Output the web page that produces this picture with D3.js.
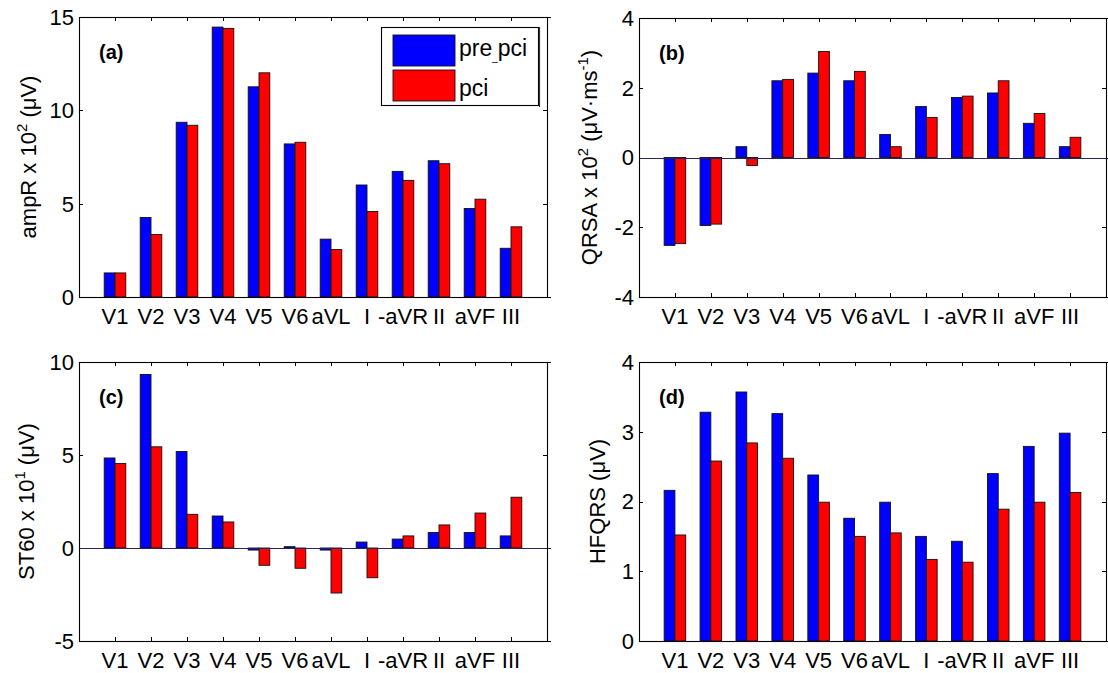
<!DOCTYPE html>
<html>
<head>
<meta charset="utf-8">
<script src="https://cdn.jsdelivr.net/npm/d3@7/dist/d3.min.js"></script>
<style>
  html, body { margin: 0; padding: 0; background: #fff; }
  svg { display: block; font-family: "Liberation Sans", Arial, "DejaVu Sans", sans-serif; }
</style>
</head>
<body>
<svg id="fig" width="1108" height="673"></svg>
<script>
// ECG lead order used on every panel
const leads = ["V1", "V2", "V3", "V4", "V5", "V6", "aVL", "I", "-aVR", "II", "aVF", "III"];

// (a) R-wave amplitude, x10^2 uV
const ampRPre = [1.29, 4.26, 9.36, 14.46, 11.26, 8.20, 3.10, 6.00, 6.73, 7.30, 4.74, 2.61];
const ampRPci = [1.29, 3.35, 9.20, 14.39, 12.01, 8.29, 2.54, 4.58, 6.25, 7.14, 5.24, 3.76];

// (b) QRS area, x10^2 uV·ms^-1
const qrsaPre = [-2.52, -1.95, 0.31, 2.20, 2.42, 2.20, 0.66, 1.46, 1.72, 1.85, 0.98, 0.31];
const qrsaPci = [-2.47, -1.91, -0.23, 2.24, 3.04, 2.47, 0.31, 1.15, 1.76, 2.20, 1.26, 0.58];

// (c) ST level at 60 ms, x10^1 uV
const st60Pre = [4.84, 9.33, 5.19, 1.72, -0.11, 0.07, -0.11, 0.32, 0.48, 0.83, 0.83, 0.65];
const st60Pci = [4.54, 5.44, 1.81, 1.40, -0.93, -1.09, -2.42, -1.60, 0.65, 1.24, 1.88, 2.73];

// (d) high-frequency QRS, uV
const hfqrsPre = [2.16, 3.28, 3.57, 3.26, 2.38, 1.76, 1.99, 1.50, 1.43, 2.40, 2.79, 2.98];
const hfqrsPci = [1.52, 2.58, 2.84, 2.62, 1.99, 1.50, 1.55, 1.17, 1.13, 1.89, 1.99, 2.13];

// y tick values per panel
const ticksA = [0, 5, 10, 15];
const ticksB = [-4, -2, 0, 2, 4];
const ticksC = [-5, 0, 5, 10];
const ticksD = [0, 1, 2, 3, 4];

const seriesNames = ["pre_pci", "pci"];
const seriesColors = ["#0000ff", "#ff0000"];

const svg = d3.select("#fig");
const FONT = 22;

// panel layout
const panels = [
  { tag: "(a)", pre: ampRPre, pci: ampRPci, ticks: ticksA,
    left: 79, right: 547, top: 17, bottom: 297, labX: 36,
    ylabel: [["ampR x 10", 0], ["2", 1], [" (\u03bcV)", 0]], legend: true },
  { tag: "(b)", pre: qrsaPre, pci: qrsaPci, ticks: ticksB,
    left: 639, right: 1106, top: 18, bottom: 297, labX: 597,
    ylabel: [["QRSA x 10", 0], ["2", 1], [" (\u03bcV\u00b7ms", 0], ["-1", 1], [")", 0]] },
  { tag: "(c)", pre: st60Pre, pci: st60Pci, ticks: ticksC,
    left: 79, right: 547, top: 362, bottom: 641, labX: 34,
    ylabel: [["ST60 x 10", 0], ["1", 1], [" (\u03bcV)", 0]] },
  { tag: "(d)", pre: hfqrsPre, pci: hfqrsPci, ticks: ticksD,
    left: 639, right: 1106, top: 362, bottom: 641, labX: 605,
    ylabel: [["HFQRS (\u03bcV)", 0]] }
];

const barW = 0.3;
const tickLen = 4;

panels.forEach(p => {
  const g = svg.append("g");
  const x = d3.scaleLinear().domain([0, leads.length + 1]).range([p.left, p.right]);
  const y = d3.scaleLinear().domain(d3.extent(p.ticks)).range([p.bottom, p.top]);

  // tick marks pointing inward on all four sides
  const ticks = g.append("g").attr("stroke", "#000").attr("stroke-width", 1);
  leads.forEach((_, i) => {
    const cx = Math.round(x(i + 1)) + 0.5;
    ticks.append("line").attr("x1", cx).attr("x2", cx).attr("y1", p.top).attr("y2", p.top + tickLen);
    ticks.append("line").attr("x1", cx).attr("x2", cx).attr("y1", p.bottom).attr("y2", p.bottom - tickLen);
  });
  p.ticks.forEach(t => {
    const cy = Math.round(y(t)) + 0.5;
    ticks.append("line").attr("x1", p.left).attr("x2", p.left + tickLen).attr("y1", cy).attr("y2", cy);
    ticks.append("line").attr("x1", p.right).attr("x2", p.right - tickLen).attr("y1", cy).attr("y2", cy);
  });

  // grouped bars
  const rows = leads.map((lead, i) => ({ i, vals: [p.pre[i], p.pci[i]] }));
  const grp = g.append("g");
  rows.forEach(r => {
    r.vals.forEach((v, s) => {
      const x0 = s === 0 ? x(r.i + 1 - barW) : x(r.i + 1);
      const x1 = s === 0 ? x(r.i + 1) : x(r.i + 1 + barW);
      grp.append("rect")
        .attr("x", x0).attr("width", x1 - x0)
        .attr("y", y(Math.max(0, v)))
        .attr("height", Math.abs(y(v) - y(0)))
        .attr("fill", seriesColors[s])
        .attr("stroke", "#111")
        .attr("stroke-width", 0.9);
    });
  });

  // zero baseline across the panel
  if (y.domain()[0] < 0) {
    g.append("line")
      .attr("x1", p.left).attr("x2", p.right + 4)
      .attr("y1", Math.round(y(0)) + 0.5).attr("y2", Math.round(y(0)) + 0.5)
      .attr("stroke", "#2a2456").attr("stroke-width", 1.2);
  }

  // axes box
  g.append("rect")
    .attr("x", p.left + 0.5).attr("y", p.top + 0.5)
    .attr("width", p.right - p.left).attr("height", p.bottom - p.top)
    .attr("fill", "none").attr("stroke", "#000").attr("stroke-width", 1.1);
  g.append("line").attr("x1", p.right).attr("x2", p.right + 4)
    .attr("y1", p.top + 0.5).attr("y2", p.top + 0.5).attr("stroke", "#000");
  g.append("line").attr("x1", p.right).attr("x2", p.right + 4)
    .attr("y1", p.bottom + 0.5).attr("y2", p.bottom + 0.5).attr("stroke", "#000");

  // y tick labels
  g.append("g").selectAll("text").data(p.ticks).join("text")
    .attr("x", p.left - 5).attr("y", d => y(d)).attr("dy", "0.36em")
    .attr("text-anchor", "end").attr("font-size", FONT).attr("fill", "#000")
    .text(d => d);

  // x tick labels
  g.append("g").selectAll("text").data(leads).join("text")
    .attr("x", (d, i) => x(i + 1)).attr("y", p.bottom + 27)
    .attr("text-anchor", "middle").attr("font-size", FONT).attr("fill", "#000")
    .text(d => d);

  // y axis label with superscripts
  const yl = g.append("text")
    .attr("transform", `translate(${p.labX},${(p.top + p.bottom) / 2}) rotate(-90)`)
    .attr("text-anchor", "middle").attr("font-size", FONT).attr("fill", "#000");
  let raised = false;
  p.ylabel.forEach(([txt, sup]) => {
    const ts = yl.append("tspan").text(txt);
    if (sup && !raised) { ts.attr("dy", -9).attr("font-size", 15); raised = true; }
    else if (!sup && raised) { ts.attr("dy", 9); raised = false; }
  });

  // panel tag
  g.append("text")
    .attr("x", p.left + 20).attr("y", p.top + 42)
    .attr("font-size", 20).attr("font-weight", "bold").attr("fill", "#000")
    .text(p.tag);

  // legend
  if (p.legend) {
    const lg = g.append("g");
    lg.append("rect").attr("x", 381.5).attr("y", 27.5).attr("width", 157).attr("height", 78)
      .attr("fill", "#fff").attr("stroke", "#000").attr("stroke-width", 1.1);
    lg.append("line").attr("x1", 539.5).attr("x2", 539.5).attr("y1", 27).attr("y2", 107)
      .attr("stroke", "#333").attr("stroke-width", 1.2);
    const rowsY = [[35, 56], [70, 96]];
    seriesNames.forEach((name, s) => {
      lg.append("rect").attr("x", 393).attr("y", rowsY[s][0]).attr("width", 62).attr("height", 31)
        .attr("fill", seriesColors[s]).attr("stroke", "#111").attr("stroke-width", 0.9);
      const t = lg.append("text").attr("x", 459).attr("y", rowsY[s][1])
        .attr("font-size", FONT + 1).attr("fill", "#000");
      const parts = name.split("_");
      if (parts.length > 1) {
        t.append("tspan").text(parts[0]);
        t.append("tspan").attr("dy", 5).attr("font-size", 10).text("_");
        t.append("tspan").attr("dy", -5).text(parts[1]);
      } else {
        t.text(name);
      }
    });
  }
});
</script>
</body>
</html>
